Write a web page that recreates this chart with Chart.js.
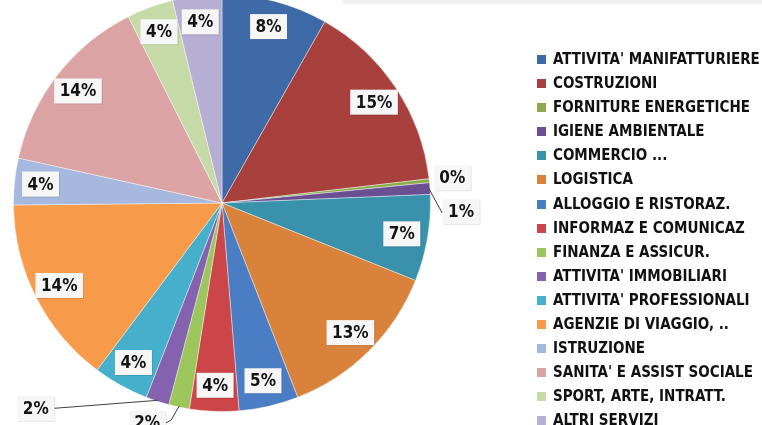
<!DOCTYPE html>
<html>
<head>
<meta charset="utf-8">
<script src="https://cdn.jsdelivr.net/npm/chart.js@4.4.1/dist/chart.umd.min.js"></script>
<style>
  html, body { margin: 0; padding: 0; background: #ffffff; width: 762px; height: 425px; overflow: hidden; }
  #wrap { position: absolute; left: 0; top: -7px; width: 762px; height: 432px; }
  #topband { position: absolute; left: 343px; top: 0; width: 419px; height: 4px; background: #efefef; }
  #legend { position: absolute; left: 537px; top: 47px; margin: 0; padding: 0; list-style: none;
            font-family: "Liberation Sans Narrow", "DejaVu Sans Condensed", sans-serif; font-weight: bold;
            font-size: 15px; color: #111; }
  #legend li { height: 24.1px; line-height: 24px; white-space: nowrap; position: relative; padding-left: 16px; }
  #legend li span.sw { position: absolute; left: 0; top: 8px; width: 9px; height: 9px; }
</style>
</head>
<body>
<div id="topband"></div>
<div id="wrap"><canvas id="c" width="762" height="432"></canvas></div>
<ul id="legend"></ul>
<script>
// ---- data ----
const categories = [
  "ATTIVITA' MANIFATTURIERE", "COSTRUZIONI", "FORNITURE ENERGETICHE", "IGIENE AMBIENTALE",
  "COMMERCIO ...", "LOGISTICA", "ALLOGGIO E RISTORAZ.", "INFORMAZ E COMUNICAZ",
  "FINANZA E ASSICUR.", "ATTIVITA' IMMOBILIARI", "ATTIVITA' PROFESSIONALI", "AGENZIE DI VIAGGIO, ..",
  "ISTRUZIONE", "SANITA' E ASSIST SOCIALE", "SPORT, ARTE, INTRATT.", "ALTRI SERVIZI"
];
const shares = [8.2, 14.9, 0.3, 0.9, 6.7, 13.0, 4.6, 3.8, 1.6, 1.8, 4.3, 14.6, 3.6, 14.1, 3.6, 3.8];
const shareLabels = ["8%", "15%", "0%", "1%", "7%", "13%", "5%", "4%", "2%", "2%", "4%", "14%", "4%", "14%", "4%", "4%"];
const sliceColors = [
  "#3E6BA8", "#A8403D", "#8CAA4E", "#6B4F93", "#3A91AB", "#D9823B", "#4A7DC4", "#CC4549",
  "#9CC55C", "#8462AE", "#46AFCB", "#F79A4A", "#A7B8DE", "#DBA3A3", "#C6DAA8", "#B7AED3"
];

// ---- styling of outside (callout) labels: offset from the slice's outer edge point ----
const callouts = {
  2: { dx: 24, dy: -3, line: false },
  3: { dx: 32, dy: 23, line: true, elbow: [13, 24] },
  8: { dx: -32, dy: 17, line: true, elbow: [-8, 14] },
  9: { dx: -122, dy: 8, line: true }
};

const FONT = 'bold 17px "Liberation Sans Narrow", "DejaVu Sans Condensed", sans-serif';

function drawBox(ctx, text, cx, cy) {
  ctx.font = FONT;
  const w = ctx.measureText(text).width + 11;
  const h = 25;
  ctx.fillStyle = "rgba(0,0,0,0.10)";
  ctx.fillRect(cx - w / 2 + 1, cy - h / 2 + 1, w, h);
  ctx.fillStyle = "#f6f6f6";
  ctx.fillRect(cx - w / 2, cy - h / 2, w, h);
  ctx.fillStyle = "#141414";
  ctx.textAlign = "center";
  ctx.textBaseline = "middle";
  ctx.fillText(text, cx, cy + 1);
  return w;
}

const labelPlugin = {
  id: "sliceLabels",
  afterDatasetsDraw(chart) {
    const ctx = chart.ctx;
    const meta = chart.getDatasetMeta(0);
    ctx.save();
    meta.data.forEach((arc, i) => {
      const p = arc.getProps(["x", "y", "startAngle", "endAngle", "outerRadius"], true);
      const mid = (p.startAngle + p.endAngle) / 2;
      const text = shareLabels[i];
      const co = callouts[i];
      if (!co) {
        const r = p.outerRadius * 0.875;
        drawBox(ctx, text, p.x + Math.cos(mid) * r, p.y + Math.sin(mid) * r);
      } else {
        const ex = p.x + Math.cos(mid) * (p.outerRadius - 1);
        const ey = p.y + Math.sin(mid) * (p.outerRadius - 1);
        const lx = ex + co.dx, ly = ey + co.dy;
        ctx.font = FONT;
        const w = ctx.measureText(text).width + 11;
        if (co.line) {
          ctx.strokeStyle = "#404040";
          ctx.lineWidth = 1;
          ctx.beginPath();
          ctx.moveTo(ex, ey);
          if (co.elbow) ctx.lineTo(ex + co.elbow[0], ey + co.elbow[1]);
          const side = co.dx > 0 ? -1 : 1;
          ctx.lineTo(lx + side * w / 2, ly);
          ctx.stroke();
        }
        drawBox(ctx, text, lx, ly);
      }
    });
    ctx.restore();
  }
};

new Chart(document.getElementById("c"), {
  type: "pie",
  data: {
    labels: categories,
    datasets: [{
      data: shares,
      backgroundColor: sliceColors,
      borderColor: "rgba(255,255,255,0.4)",
      borderWidth: 1
    }]
  },
  options: {
    responsive: false,
    animation: false,
    layout: { padding: { left: 13, right: 331, top: 1, bottom: 13 } },
    plugins: { legend: { display: false }, tooltip: { enabled: false } }
  },
  plugins: [labelPlugin]
});

// ---- legend built from the same arrays ----
const ul = document.getElementById("legend");
categories.forEach((name, i) => {
  const li = document.createElement("li");
  const sw = document.createElement("span");
  sw.className = "sw";
  sw.style.background = sliceColors[i];
  li.appendChild(sw);
  li.appendChild(document.createTextNode(name));
  ul.appendChild(li);
});
</script>
</body>
</html>
